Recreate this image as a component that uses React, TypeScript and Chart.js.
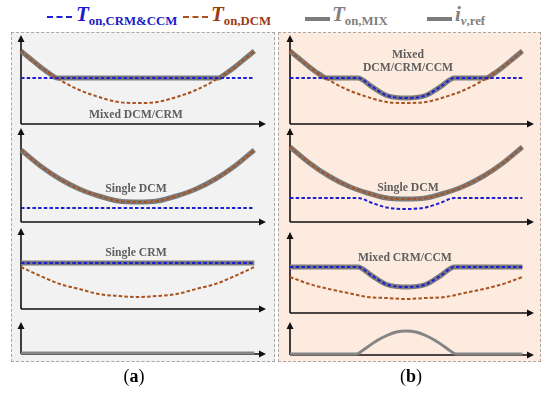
import React, { useEffect, useRef } from "react";
import { Chart, registerables } from "chart.js";
Chart.register(...registerables);

// ---------- data (values = height above each small x-axis) ----------
const X13 = [0, 1, 2, 3, 4, 5, 6, 7, 8, 9, 10, 11, 12];
const X2 = [0, 12];

// (a) Mixed DCM/CRM
const dcmA1 = [73, 57, 44, 34, 27, 22, 21, 22, 27, 34, 44, 57, 73];
const crmA1 = [46, 46];
const mixA1x = [0, 0.5, 1, 1.5, 1.85, 10.15, 10.5, 11, 11.5, 12];
const mixA1y = [73, 65, 57, 50, 46, 46, 50, 57, 65, 73];
// (a) Single DCM
const dcmA2 = [72, 56, 43, 33, 26, 21, 20, 21, 26, 33, 43, 56, 72];
const crmA2 = [14, 14];
// (a) Single CRM
const crmA3 = [46, 46];
const dcmA3 = [42, 33, 25, 20, 15, 13, 12, 13, 15, 20, 25, 33, 42];
// (a) i_v,ref
const ivA = [1, 1];

// (b) Mixed DCM/CRM/CCM
const dcmB1 = [73, 57, 44, 34, 27, 22, 21, 22, 27, 34, 44, 57, 73];
const ccmX = [0, 3.5, 4.25, 5, 6, 7, 7.75, 8.5, 12];
const ccmB1 = [46, 46, 37, 28.5, 26, 28.5, 37, 46, 46];
const mixB1x = [0, 0.5, 1, 1.5, 1.9, 3.5, 4.25, 5, 6, 7, 7.75, 8.5, 10.1, 10.5, 11, 11.5, 12];
const mixB1y = [73, 65, 57, 50, 46, 46, 37, 28.5, 26, 28.5, 37, 46, 46, 50, 57, 65, 73];
// (b) Single DCM
const dcmB2 = [75, 59, 46, 36, 29, 24, 23, 24, 29, 36, 46, 59, 75];
const ccmB2 = [24, 24, 19, 14.5, 13, 14.5, 19, 24, 24];
// (b) Mixed CRM/CCM
const ccmB3 = [46, 46, 37, 28.5, 26, 28.5, 37, 46, 46];
const dcmB3 = [36, 29, 24, 20, 16, 15, 14, 15, 16, 20, 24, 29, 36];
// (b) i_v,ref
const ivBaseX = [0, 3.5, 6, 8.5, 12];
const ivBaseY = [1, 1, null, 1, 1];
const ivHumpX = [3.5, 4, 4.5, 5, 5.5, 6, 6.5, 7, 7.5, 8, 8.5];
const ivHumpY = [1, 8, 14.5, 19.5, 23, 24, 23, 19.5, 14.5, 8, 1];

// ---------- styles ----------
const BLUE = "#1f1fd2";
const BROWN = "#a9521e";
const GRAY = "#7c7b7b";
const XMAX = 12.6;
const PAD = 7;

type Kind = "crm" | "dcm" | "mix" | "iv";
type S = { kind: Kind; xs: number[]; ys: (number | null)[] };

function styleFor(kind: Kind) {
  if (kind === "crm") return { borderColor: BLUE, borderWidth: 2, borderDash: [3.5, 2.2], order: 1 };
  if (kind === "dcm") return { borderColor: BROWN, borderWidth: 2, borderDash: [3.5, 2.2], order: 2 };
  if (kind === "mix") return { borderColor: GRAY, borderWidth: 5, borderDash: [], order: 5 };
  return { borderColor: "#858585", borderWidth: 3, borderDash: [], order: 5 };
}

const axesPlugin = {
  id: "arrowAxes",
  beforeDatasetsDraw(chart: any) {
    const { ctx, chartArea } = chart;
    const { left, right, top, bottom } = chartArea;
    ctx.save();
    ctx.strokeStyle = "#111";
    ctx.fillStyle = "#111";
    ctx.lineWidth = 1.6;
    ctx.beginPath();
    ctx.moveTo(left, bottom);
    ctx.lineTo(left, top + 5);
    ctx.moveTo(left, bottom);
    ctx.lineTo(right - 5, bottom);
    ctx.stroke();
    ctx.beginPath();
    ctx.moveTo(left, top);
    ctx.lineTo(left - 3.5, top + 7);
    ctx.lineTo(left + 3.5, top + 7);
    ctx.closePath();
    ctx.fill();
    ctx.beginPath();
    ctx.moveTo(right, bottom);
    ctx.lineTo(right - 7, bottom - 3.5);
    ctx.lineTo(right - 7, bottom + 3.5);
    ctx.closePath();
    ctx.fill();
    ctx.restore();
  },
};

function SubChart(props: { x0: number; y0: number; unit: number; yMax: number; series: S[] }) {
  const ref = useRef<HTMLCanvasElement | null>(null);
  const { x0, y0, unit, yMax, series } = props;
  const w = Math.round(XMAX * unit) + 2 * PAD;
  const h = yMax + 2 * PAD;
  useEffect(() => {
    if (!ref.current) return;
    const chart = new Chart(ref.current, {
      type: "line",
      data: {
        datasets: series.map((s) => ({
          data: s.xs.map((x, i) => ({ x, y: s.ys[i] })),
          ...styleFor(s.kind),
          fill: false,
          pointRadius: 0,
          cubicInterpolationMode: "monotone",
          spanGaps: false,
          borderCapStyle: "butt",
          clip: false,
        })) as any,
      },
      options: {
        animation: false,
        responsive: false,
        events: [],
        layout: { padding: PAD },
        plugins: { legend: { display: false }, tooltip: { enabled: false } },
        scales: {
          x: { type: "linear", min: 0, max: XMAX, display: false },
          y: { min: 0, max: yMax, display: false },
        },
      },
      plugins: [axesPlugin],
    });
    return () => chart.destroy();
  }, []);
  return (
    <canvas
      ref={ref}
      width={w}
      height={h}
      style={{ position: "absolute", left: x0 - PAD, top: y0 - yMax - PAD, width: w, height: h }}
    />
  );
}

const serif = "'Liberation Serif', 'Times New Roman', serif";

function Label(props: { cx: number; cy: number; text: string }) {
  return (
    <div
      style={{
        position: "absolute",
        left: props.cx - 100,
        top: props.cy - 8,
        width: 200,
        textAlign: "center",
        fontFamily: serif,
        fontWeight: "bold",
        fontSize: 11.7,
        lineHeight: "16px",
        color: "#5e5e5e",
      }}
    >
      {props.text}
    </div>
  );
}

function LegendItem(props: {
  lineLeft: number;
  lineY: number;
  dashed: boolean;
  lineColor: string;
  textLeft: number;
  main: string;
  sub: string;
  color: string;
}) {
  return (
    <>
      <div
        style={{
          position: "absolute",
          left: props.lineLeft,
          top: props.lineY - (props.dashed ? 1 : 2),
          width: 25,
          height: 0,
          borderTop: props.dashed ? `2.5px dashed ${props.lineColor}` : `4px solid ${props.lineColor}`,
        }}
      />
      <div
        style={{
          position: "absolute",
          left: props.textLeft,
          top: 2,
          whiteSpace: "nowrap",
          fontFamily: serif,
          color: props.color,
          lineHeight: "24px",
        }}
      >
        <span style={{ fontStyle: "italic", fontWeight: "bold", fontSize: 21 }}>{props.main}</span>
        <span style={{ fontWeight: "bold", fontSize: 12.8, position: "relative", top: 4 }}>{props.sub}</span>
      </div>
    </>
  );
}

export default function App() {
  const L = { x0: 21, unit: 19.42 };
  const R = { x0: 290, unit: 19.33 };
  return (
    <div style={{ position: "fixed", left: 0, top: 0, width: 550, height: 398, background: "#fff", overflow: "hidden" }}>
      <LegendItem lineLeft={47} lineY={17} dashed lineColor={BLUE} textLeft={76} main="T" sub="on,CRM&CCM" color="#1a1ac8" />
      <LegendItem lineLeft={183} lineY={17} dashed lineColor={BROWN} textLeft={211} main="T" sub="on,DCM" color="#9a3a12" />
      <LegendItem lineLeft={305} lineY={19} dashed={false} lineColor={GRAY} textLeft={332} main="T" sub="on,MIX" color="#808080" />
      <div style={{ position: "absolute", left: 427, top: 17, width: 25, height: 0, borderTop: `4px solid ${GRAY}` }} />
      <div style={{ position: "absolute", left: 455, top: 2, whiteSpace: "nowrap", fontFamily: serif, color: "#808080", lineHeight: "24px" }}>
        <span style={{ fontStyle: "italic", fontWeight: "bold", fontSize: 21 }}>i</span>
        <span style={{ fontWeight: "bold", fontSize: 12.8, position: "relative", top: 4 }}>
          <i>v</i>,ref
        </span>
      </div>

      <div style={{ position: "absolute", left: 11, top: 32, width: 262, height: 328, border: "1px dashed #a8a8a8", background: "#f2f2f2" }} />
      <div style={{ position: "absolute", left: 278, top: 32, width: 261, height: 328, border: "1px dashed #a8a8a8", background: "#fcebde" }} />

      <SubChart {...L} y0={124} yMax={89} series={[
        { kind: "crm", xs: X2, ys: crmA1 },
        { kind: "dcm", xs: X13, ys: dcmA1 },
        { kind: "mix", xs: mixA1x, ys: mixA1y },
      ]} />
      <SubChart {...L} y0={222} yMax={94} series={[
        { kind: "crm", xs: X2, ys: crmA2 },
        { kind: "dcm", xs: X13, ys: dcmA2 },
        { kind: "mix", xs: X13, ys: dcmA2 },
      ]} />
      <SubChart {...L} y0={309} yMax={81} series={[
        { kind: "crm", xs: X2, ys: crmA3 },
        { kind: "dcm", xs: X13, ys: dcmA3 },
        { kind: "mix", xs: X2, ys: crmA3 },
      ]} />
      <SubChart {...L} y0={354} yMax={32} series={[{ kind: "iv", xs: X2, ys: ivA }]} />

      <SubChart {...R} y0={124} yMax={89} series={[
        { kind: "crm", xs: ccmX, ys: ccmB1 },
        { kind: "dcm", xs: X13, ys: dcmB1 },
        { kind: "mix", xs: mixB1x, ys: mixB1y },
      ]} />
      <SubChart {...R} y0={222} yMax={94} series={[
        { kind: "crm", xs: ccmX, ys: ccmB2 },
        { kind: "dcm", xs: X13, ys: dcmB2 },
        { kind: "mix", xs: X13, ys: dcmB2 },
      ]} />
      <SubChart {...R} y0={313} yMax={81} series={[
        { kind: "crm", xs: ccmX, ys: ccmB3 },
        { kind: "dcm", xs: X13, ys: dcmB3 },
        { kind: "mix", xs: ccmX, ys: ccmB3 },
      ]} />
      <SubChart {...R} y0={355} yMax={33} series={[
        { kind: "iv", xs: ivBaseX, ys: ivBaseY },
        { kind: "iv", xs: ivHumpX, ys: ivHumpY },
      ]} />

      <Label cx={136} cy={115} text="Mixed DCM/CRM" />
      <Label cx={136} cy={189} text="Single DCM" />
      <Label cx={136} cy={253} text="Single CRM" />
      <Label cx={408} cy={55} text="Mixed" />
      <Label cx={408} cy={68} text="DCM/CRM/CCM" />
      <Label cx={408} cy={188} text="Single DCM" />
      <Label cx={405} cy={258} text="Mixed CRM/CCM" />

      <div style={{ position: "absolute", left: 99, top: 366, width: 70, textAlign: "center", fontFamily: serif, fontSize: 18, lineHeight: "20px", color: "#000" }}>
        (<b>a</b>)
      </div>
      <div style={{ position: "absolute", left: 376, top: 366, width: 70, textAlign: "center", fontFamily: serif, fontSize: 18, lineHeight: "20px", color: "#000" }}>
        (<b>b</b>)
      </div>
    </div>
  );
}
